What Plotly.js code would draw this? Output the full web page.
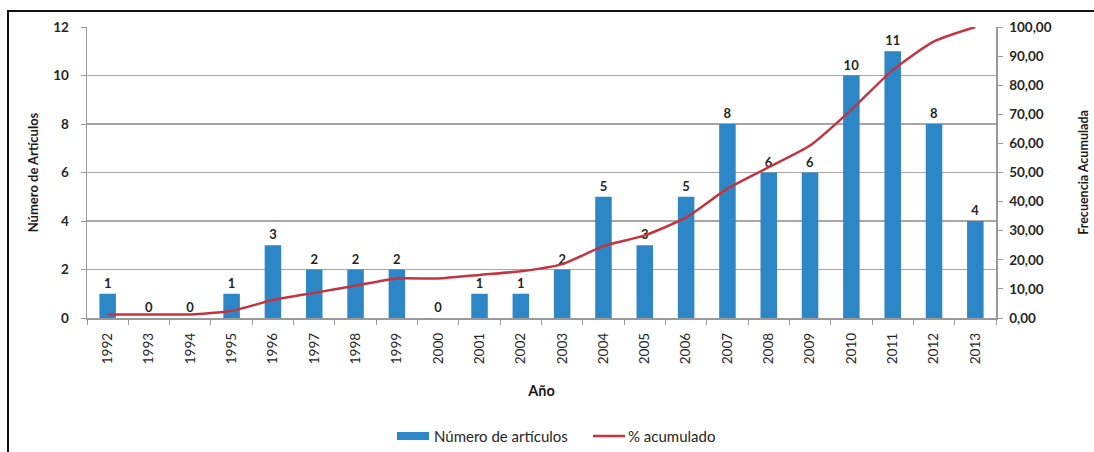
<!DOCTYPE html>
<html>
<head>
<meta charset="utf-8">
<script src="https://cdn.plot.ly/plotly-3.0.1.min.js"></script>
<style>
html,body{margin:0;padding:0;background:#fff;}
#frame{position:absolute;left:7px;top:10px;width:1087px;height:442px;border-left:2px solid #111;border-top:2px solid #111;box-sizing:border-box;}
#chart{position:absolute;left:0;top:0;width:1094px;height:452px;}
</style>
</head>
<body>
<div id="frame"></div>
<div id="chart"></div>
<script>
const years = ['1992','1993','1994','1995','1996','1997','1998','1999','2000','2001','2002','2003','2004','2005','2006','2007','2008','2009','2010','2011','2012','2013'];
const articles = [1,0,0,1,3,2,2,2,0,1,1,2,5,3,5,8,6,6,10,11,8,4];
const cumulativePct = [1.23,1.23,1.23,2.47,6.17,8.64,11.11,13.58,13.58,14.81,16.05,18.52,24.69,28.40,34.57,44.44,51.85,59.26,71.60,85.19,95.06,100.00];
const leftTicks = [0,2,4,6,8,10,12];
const rightTicks = [0,10,20,30,40,50,60,70,80,90,100];
const rightTickText = ['0,00','10,00','20,00','30,00','40,00','50,00','60,00','70,00','80,00','90,00','100,00'];
const seriesNames = ['Número de artículos','% acumulado'];
const barColor = '#2D87C7';
const lineColor = '#C4343F';

const fontFam = 'Lato, "Open Sans", sans-serif';
const bars = {
  type:'bar', x:years, y:articles, name:seriesNames[0], showlegend:false,
  marker:{color:barColor, line:{width:0}},
  width:0.4,
  text:articles.map(String), textposition:'outside', cliponaxis:false,
  textfont:{family:fontFam, size:13, color:'#262626', weight:'bold'},
  hoverinfo:'x+y'
};
const line = {
  type:'scatter', mode:'lines', x:years, y:cumulativePct, yaxis:'y2', name:seriesNames[1], showlegend:false,
  line:{color:lineColor, width:2.5, shape:'spline', smoothing:0.6}, cliponaxis:false
};
const legY = -0.4055;
const layout = {
  width:1094, height:452,
  margin:{l:87, r:98, t:27, b:134, autoexpand:false},
  paper_bgcolor:'rgba(0,0,0,0)', plot_bgcolor:'rgba(0,0,0,0)',
  font:{family:fontFam, color:'#262626'},
  showlegend:false,
  bargap:0.6,
  shapes:[
    {type:'rect', xref:'paper', yref:'paper', x0:0.3410, x1:0.3762, y0:-0.3918, y1:-0.4192, fillcolor:barColor, line:{width:0}},
    {type:'line', xref:'paper', yref:'paper', x0:0.5567, x1:0.5919, y0:legY, y1:legY, line:{color:lineColor, width:2.5}}
  ],
  annotations:[
    {xref:'paper', yref:'paper', x:0.3795, y:legY, xanchor:'left', yanchor:'middle', showarrow:false, text:seriesNames[0], font:{size:15, color:'#262626'}},
    {xref:'paper', yref:'paper', x:0.5930, y:legY, xanchor:'left', yanchor:'middle', showarrow:false, text:seriesNames[1], font:{size:15, color:'#262626'}}
  ],
  xaxis:{
    type:'category', tickangle:-90, tickfont:{size:13.5, color:'#262626'},
    showline:true, linecolor:'#999', linewidth:1.5,
    ticks:'outside', tickson:'boundaries', ticklen:5, tickcolor:'#999',
    ticklabelstandoff:8,
    showgrid:false, automargin:false,
    title:{text:'Año', font:{size:14.5, weight:'bold', color:'#1a1a1a'}, standoff:22}
  },
  yaxis:{
    range:[0,12], tickvals:leftTicks, tickfont:{size:13.5, weight:'bold', color:'#262626'},
    showline:true, linecolor:'#999', linewidth:1.5,
    ticks:'outside', ticklen:5, tickcolor:'#999', automargin:false,
    ticklabelstandoff:9,
    showgrid:true, gridcolor:'#A6A6A6', gridwidth:1.5, zeroline:false,
    title:{text:'Número de Artículos', font:{size:13, weight:'bold', color:'#1a1a1a'}, standoff:11}
  },
  yaxis2:{
    overlaying:'y', side:'right', range:[0,100], tickvals:rightTicks, ticktext:rightTickText,
    tickfont:{size:13.5, weight:'bold', color:'#262626'},
    showline:true, linecolor:'#999', linewidth:1.5,
    ticks:'outside', ticklen:5, tickcolor:'#999', automargin:false,
    ticklabelstandoff:4,
    showgrid:false, zeroline:false,
    title:{text:'Frecuencia Acumulada', font:{size:12.5, weight:'bold', color:'#1a1a1a'}, standoff:28}
  }
};
Plotly.newPlot('chart',[bars,line],layout,{displayModeBar:false, staticPlot:true});
</script>
</body>
</html>
